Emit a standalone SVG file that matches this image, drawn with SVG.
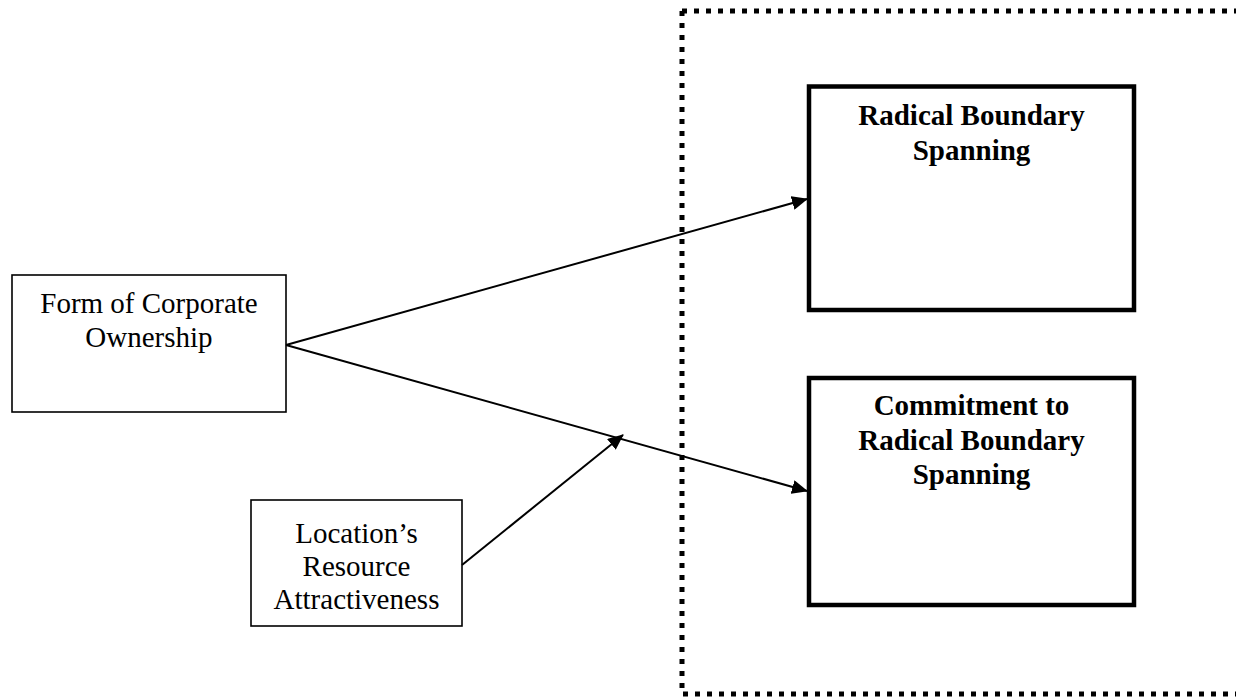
<svg xmlns="http://www.w3.org/2000/svg" width="1236" height="697" viewBox="0 0 1236 697">
  <defs>
    <marker id="arrow" viewBox="0 0 16 14" refX="15" refY="7" markerWidth="16" markerHeight="14" markerUnits="userSpaceOnUse" orient="auto">
      <path d="M0,0 L16,7 L0,14 Z" fill="#000"/>
    </marker>
  </defs>
  <style>
    .thin { fill: #fff; stroke: #000; stroke-width: 1.6; }
    .thick { fill: #fff; stroke: #000; stroke-width: 4.5; }
    .label { font-family: "Liberation Serif", "Times New Roman", serif; font-size: 29px; fill: #000; text-anchor: middle; }
    .bold { font-weight: bold; }
    .link { fill: none; stroke: #000; stroke-width: 2; marker-end: url(#arrow); }
    .boundary { fill: none; stroke: #000; stroke-width: 5; stroke-dasharray: 5 7; }
  </style>
  <rect width="1236" height="697" fill="#fff"/>

  <!-- dotted boundary enclosing the outcome constructs -->
  <g id="boundary">
    <path class="boundary" d="M682,11 H1244"/>
    <path class="boundary" d="M682,11 V694 H1244"/>
  </g>

  <g id="form-ownership">
    <rect class="thin" x="12" y="275" width="274" height="137"/>
    <text class="label" x="149" y="313">Form of Corporate</text>
    <text class="label" x="149" y="347">Ownership</text>
  </g>

  <g id="location-attractiveness">
    <rect class="thin" x="251" y="500" width="211" height="126"/>
    <text class="label" x="356.5" y="543">Location’s</text>
    <text class="label" x="356.5" y="576">Resource</text>
    <text class="label" x="356.5" y="609">Attractiveness</text>
  </g>

  <g id="radical-spanning">
    <rect class="thick" x="809" y="86.5" width="325" height="223.5"/>
    <text class="label bold" x="971.5" y="125">Radical Boundary</text>
    <text class="label bold" x="971.5" y="160">Spanning</text>
  </g>

  <g id="commitment-spanning">
    <rect class="thick" x="809" y="378" width="325" height="227"/>
    <text class="label bold" x="971.5" y="415">Commitment to</text>
    <text class="label bold" x="971.5" y="450">Radical Boundary</text>
    <text class="label bold" x="971.5" y="484">Spanning</text>
  </g>

  <g id="connectors">
    <line class="link" x1="286" y1="345" x2="807" y2="199"/>
    <line class="link" x1="286" y1="345" x2="807" y2="491"/>
    <line class="link" x1="462" y1="565" x2="623" y2="435"/>
  </g>
</svg>
